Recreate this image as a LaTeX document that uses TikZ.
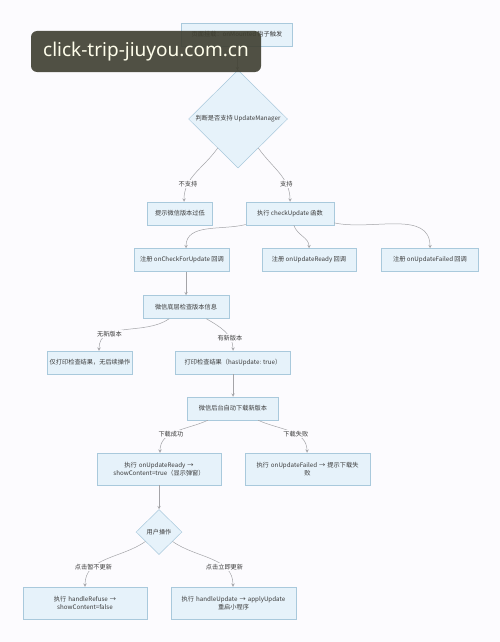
\documentclass[tikz,border=0pt]{standalone}
\usepackage{fontspec}
\setmainfont{Noto Sans CJK SC}
\newfontfamily\wmfont{Noto Sans}
\usetikzlibrary{shapes.geometric, arrows}
\definecolor{bgcol}{HTML}{FCFBFE}
\definecolor{boxfill}{HTML}{E6F2FA}
\definecolor{boxline}{HTML}{A9C9DC}
\definecolor{linecol}{HTML}{A4A4A8}
\definecolor{txtcol}{HTML}{3A3A3A}
\definecolor{wmcol}{HTML}{3E3E30}
\tikzstyle{process} = [rectangle, minimum height=23pt, inner sep=2pt, text centered, draw=boxline, line width=0.5pt, fill=boxfill, text=txtcol, font=\fontsize{6.2}{8}\selectfont]
\tikzstyle{decision} = [diamond, aspect=1, inner sep=1pt, text centered, draw=boxline, line width=0.5pt, fill=boxfill, text=txtcol, font=\fontsize{6.2}{8}\selectfont]
\tikzstyle{arrow} = [draw=linecol, line width=0.5pt, ->, >=stealth]
\tikzstyle{lbl} = [fill=bgcol, inner sep=1pt, text=txtcol, font=\fontsize{6.2}{8}\selectfont]

\begin{document}
\begin{tikzpicture}[x=1pt, y=-1pt]
\fill [bgcol] (0,0) rectangle (500,642);
\useasboundingbox (0,0) rectangle (500,642);
\node (start) [process, minimum width=111pt] at (237,34.5) {页面挂载：onMounted 钩子触发};
\node (dec1) [decision, minimum width=99pt, minimum height=98pt] at (238,119) {判断是否支持 UpdateManager};
\node (old) [process, minimum width=65pt] at (180,213.5) {提示微信版本过低};
\node (chk) [process, minimum width=88pt] at (290,213.5) {执行 checkUpdate 函数};
\node (regchk) [process, minimum width=95pt] at (182,260) {注册 onCheckForUpdate 回调};
\node (regready) [process, minimum width=94pt] at (309,260) {注册 onUpdateReady 回调};
\node (regfail) [process, minimum width=97pt] at (430,260) {注册 onUpdateFailed 回调};
\node (wxchk) [process, minimum width=86pt] at (186,307) {微信底层检查版本信息};
\node (nonew) [process, minimum width=83pt] at (90,362.5) {仅打印检查结果，无后续操作};
\node (hasnew) [process, minimum width=115pt] at (233,362.5) {打印检查结果（hasUpdate: true）};
\node (dl) [process, minimum width=91pt] at (233,408.5) {微信后台自动下载新版本};
\node (ready) [process, minimum width=124pt, minimum height=32pt, text width=116pt] at (159,469) {执行 onUpdateReady →\\showContent=true（显示弹窗）};
\node (failed) [process, minimum width=125pt, minimum height=32pt, text width=116pt] at (307.5,469) {执行 onUpdateFailed → 提示下载失\\败};
\node (dec2) [decision, minimum width=46pt, minimum height=45pt] at (159,532) {用户操作};
\node (refuse) [process, minimum width=124pt, minimum height=32pt, text width=116pt] at (85,603) {执行 handleRefuse →\\showContent=false};
\node (update) [process, minimum width=125pt, minimum height=32pt, text width=116pt] at (233.5,603) {执行 handleUpdate → applyUpdate\\重启小程序};

\draw [arrow] (start) -- (dec1);
\draw [arrow] (dec1) to[out=235, in=90] node [lbl, pos=0.72] {不支持} ([xshift=4pt]old.north);
\draw [arrow] (dec1) to[out=-55, in=90] node [lbl, pos=0.72] {支持} (chk.north);
\draw [arrow] (chk) to[out=194, in=90] ([xshift=4pt]regchk.north);
\draw [arrow] (chk) to[out=-72, in=90] (regready.north);
\draw [arrow] (chk) to[out=-12, in=90] (regfail.north);
\draw [arrow] ([xshift=4pt]regchk.south) -- (wxchk);
\draw [arrow] (wxchk) to[out=215, in=90] node [lbl, pos=0.7] {无新版本} ([xshift=9pt]nonew.north);
\draw [arrow] (wxchk) to[out=-30, in=90] node [lbl, pos=0.7] {有新版本} (hasnew.north);
\draw [arrow] (hasnew) -- (dl);
\draw [arrow] (dl) to[out=205, in=90] node [lbl, pos=0.6] {下载成功} ([xshift=1pt]ready.north);
\draw [arrow] (dl) to[out=-25, in=90] node [lbl, pos=0.6] {下载失败} ([xshift=-0.5pt]failed.north);
\draw [arrow] (ready) -- (dec2);
\draw [arrow] (dec2) to[out=215, in=90] node [lbl, pos=0.7] {点击暂不更新} (refuse.north);
\draw [arrow] (dec2) to[out=-35, in=90] node [lbl, pos=0.7] {点击立即更新} ([xshift=-0.5pt]update.north);

% watermark over the picture
\node (wm) [rectangle, rounded corners=6pt, fill=wmcol, fill opacity=0.9, text opacity=1, text=white!92!yellow, minimum width=230pt, minimum height=41pt, font=\wmfont\fontsize{19}{22}\selectfont] at (146,51.5) {click-trip-jiuyou.com.cn};
\end{tikzpicture}
\end{document}
